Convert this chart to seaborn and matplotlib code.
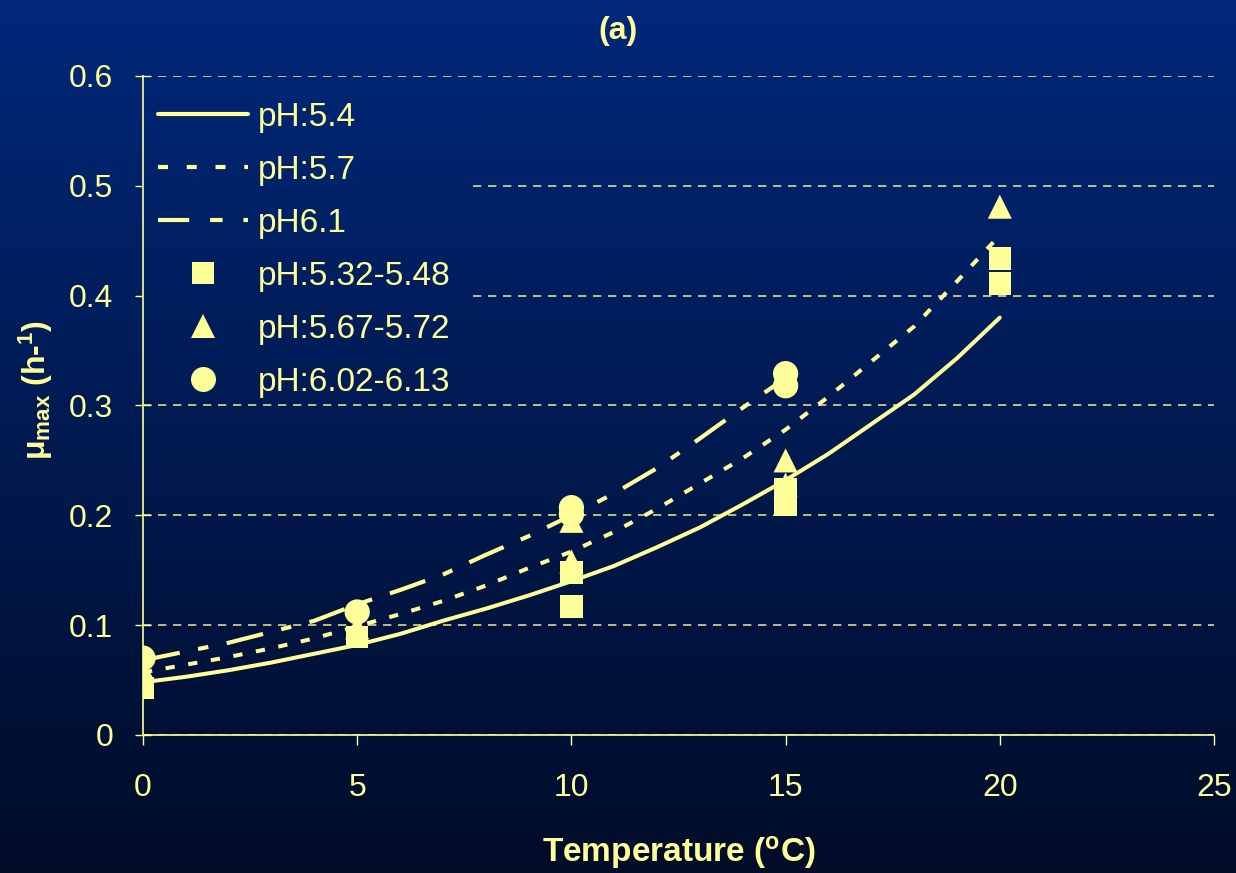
import numpy as np
import matplotlib.pyplot as plt
import seaborn as sns
from matplotlib.colors import LinearSegmentedColormap
from matplotlib.lines import Line2D

sns.set_style('ticks')
plt.rcParams['font.family'] = ['Liberation Sans', 'DejaVu Sans']
plt.rcParams['mathtext.default'] = 'regular'

# ---- data ----
temp_line = list(range(0, 21))
mu_ph54 = [0.048, 0.053, 0.059, 0.066, 0.074, 0.082, 0.092, 0.104, 0.115, 0.127,
           0.140, 0.154, 0.171, 0.189, 0.210, 0.232, 0.256, 0.283, 0.310, 0.343, 0.380]
mu_ph57 = [0.057, 0.064, 0.071, 0.079, 0.088, 0.099, 0.110, 0.122, 0.136, 0.152,
           0.167, 0.185, 0.206, 0.229, 0.252, 0.278, 0.308, 0.340, 0.372, 0.413, 0.455]
temp_line61 = list(range(0, 16))
mu_ph61 = [0.068, 0.076, 0.084, 0.094, 0.104, 0.119, 0.132, 0.146, 0.164, 0.181,
           0.200, 0.220, 0.243, 0.270, 0.298, 0.325]

sq_temp = [0, 5, 10, 10, 15, 15, 20, 20]
sq_mu = [0.043, 0.089, 0.148, 0.117, 0.224, 0.210, 0.434, 0.411]
tri_temp = [0, 5, 10, 10, 15, 15, 20]
tri_mu = [0.059, 0.098, 0.158, 0.195, 0.250, 0.228, 0.481]
circ_temp = [0, 5, 10, 10, 15, 15]
circ_mu = [0.070, 0.112, 0.207, 0.201, 0.329, 0.318]

legend_labels = ['pH:5.4', 'pH:5.7', 'pH6.1', 'pH:5.32-5.48', 'pH:5.67-5.72', 'pH:6.02-6.13']

YELLOW = '#FFFF99'
bg_cmap = LinearSegmentedColormap.from_list('bg', ['#000C28', '#00287A'])

fig = plt.figure(figsize=(12.36, 8.73), dpi=100)

# gradient background
bg_ax = fig.add_axes([0, 0, 1, 1], zorder=-10)
bg_ax.imshow(np.linspace(1, 0, 256).reshape(-1, 1), cmap=bg_cmap, vmin=0, vmax=1,
             aspect='auto', extent=[0, 1, 0, 1])
bg_ax.axis('off')

ax_rect = [143 / 1236, 138 / 873, 1071 / 1236, 659 / 873]
ax = fig.add_axes(ax_rect)
ax.set_facecolor('none')

dot_style = (0, (2.3, 3.4))
dashdot_style = (0, (9, 4.5, 2.5, 4.5))

# lines
sns.lineplot(x=temp_line, y=mu_ph54, ax=ax, color=YELLOW, linewidth=2.9, zorder=3)
sns.lineplot(x=temp_line, y=mu_ph57, ax=ax, color=YELLOW, linewidth=2.9,
             linestyle=dot_style, zorder=3)
sns.lineplot(x=temp_line61, y=mu_ph61, ax=ax, color=YELLOW, linewidth=3.0,
             linestyle=dashdot_style, zorder=3)

# observed points
sns.scatterplot(x=tri_temp, y=tri_mu, ax=ax, marker='^', s=300, color=YELLOW,
                edgecolor='none', linewidth=0, zorder=4)
sns.scatterplot(x=sq_temp, y=sq_mu, ax=ax, marker='s', s=260, color=YELLOW,
                edgecolor='none', linewidth=0, zorder=4)
sns.scatterplot(x=circ_temp, y=circ_mu, ax=ax, marker='o', s=330, color=YELLOW,
                edgecolor='none', linewidth=0, zorder=4)

# legend box hides the grid behind it (same gradient as the background)
y_lo, y_hi = 0.31, 0.592
rows = np.linspace(y_hi, y_lo, 64)
frac = ax_rect[1] + rows / 0.6 * ax_rect[3]
ax.imshow(frac.reshape(-1, 1), cmap=bg_cmap, vmin=0, vmax=1, aspect='auto',
          extent=[0, 7.6, y_lo, y_hi], zorder=1)

ax.set_xlim(0, 25)
ax.set_ylim(0, 0.6)
ax.set_xticks([0, 5, 10, 15, 20, 25])
ax.set_yticks([0, 0.1, 0.2, 0.3, 0.4, 0.5, 0.6])
ax.set_yticklabels(['0', '0.1', '0.2', '0.3', '0.4', '0.5', '0.6'])

ax.set_axisbelow(True)
ax.yaxis.grid(True, color=YELLOW, linestyle=(0, (5, 4)), linewidth=1.2, alpha=0.85)
ax.xaxis.grid(False)

for side in ['top', 'right']:
    ax.spines[side].set_visible(False)
for side in ['left', 'bottom']:
    ax.spines[side].set_color(YELLOW)
    ax.spines[side].set_linewidth(1.2)

ax.tick_params(axis='x', colors=YELLOW, labelsize=23, direction='out', length=7,
               width=1, pad=20)
ax.tick_params(axis='y', colors=YELLOW, labelsize=23, direction='inout', length=11,
               width=1, pad=16)

ax.set_xlabel('Temperature ($^{o}$C)', color=YELLOW, fontsize=24, fontweight='bold')
ax.xaxis.set_label_coords(0.5, -0.150)
ax.set_ylabel('μ$_{max}$ (h-$^{1}$)', color=YELLOW, fontsize=23, fontweight='bold')
ax.yaxis.set_label_coords(-0.082, 0.5235)

fig.text(0.5, 1 - 31 / 873, '(a)', color=YELLOW, fontsize=23, fontweight='bold',
         ha='center', va='center')

handles = [
    Line2D([], [], color=YELLOW, linewidth=3),
    Line2D([], [], color=YELLOW, linewidth=3, linestyle=(0, (2.4, 4.5))),
    Line2D([], [], color=YELLOW, linewidth=3, linestyle=(0, (7.5, 5.0, 3.0, 5.0))),
    Line2D([], [], color=YELLOW, marker='s', linestyle='none', markersize=16,
           markeredgewidth=0),
    Line2D([], [], color=YELLOW, marker='^', linestyle='none', markersize=17,
           markeredgewidth=0),
    Line2D([], [], color=YELLOW, marker='o', linestyle='none', markersize=18,
           markeredgewidth=0),
]
ax.legend(handles, legend_labels, loc='upper left', bbox_to_anchor=(0.014, 0.961),
          frameon=False, fontsize=24, labelcolor=YELLOW, handlelength=2.7,
          handletextpad=0.3, labelspacing=0.66, borderaxespad=0, borderpad=0)

fig.savefig('out.png', dpi=100)
